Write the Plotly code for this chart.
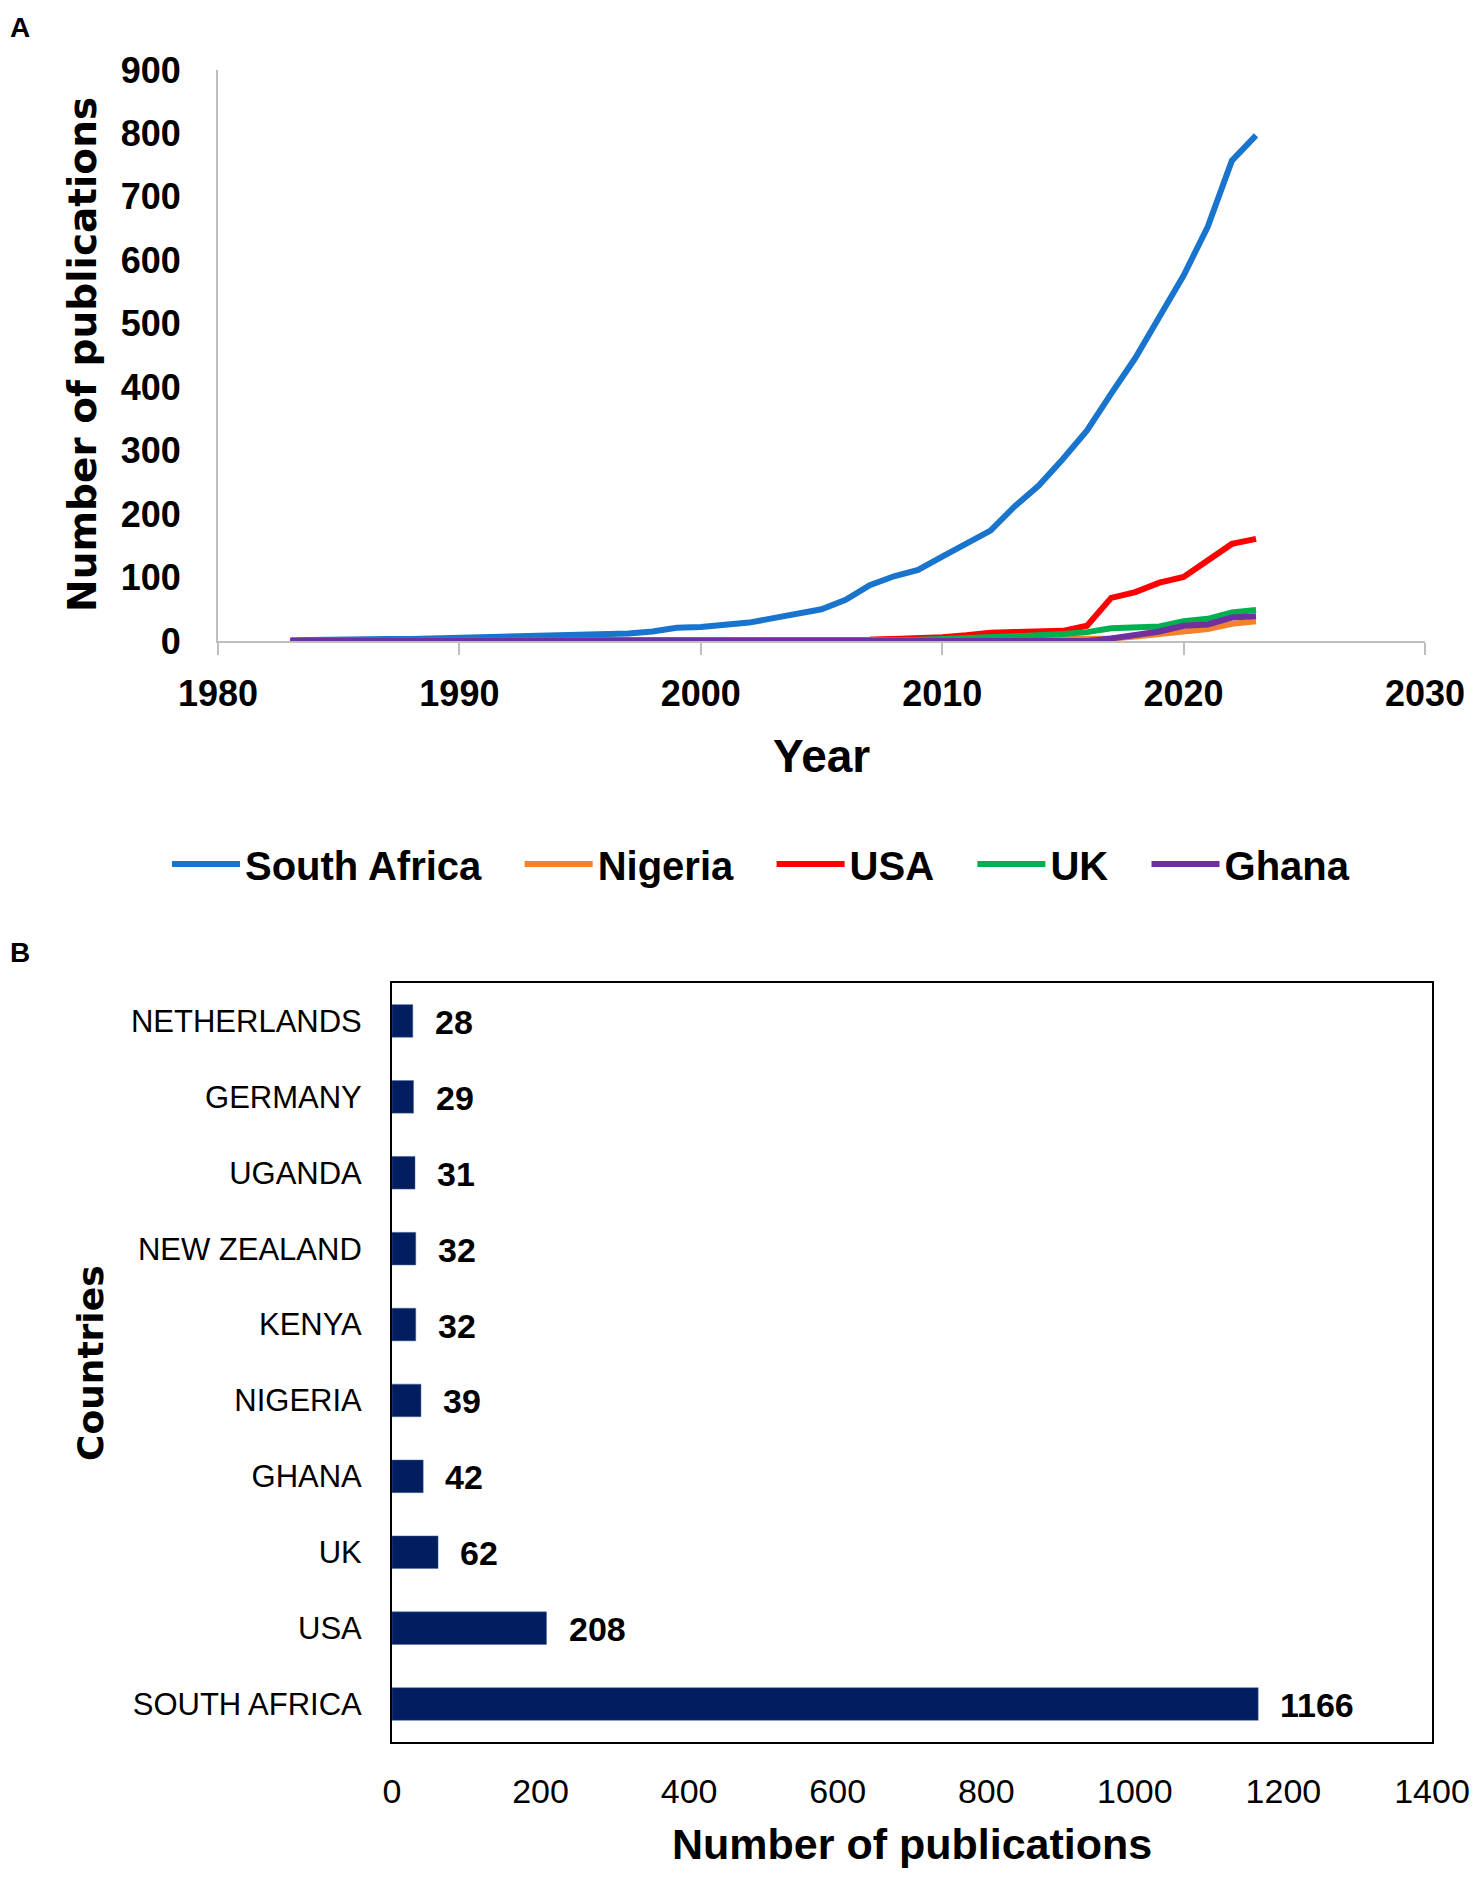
import plotly.graph_objects as go

# ---------------- data ----------------
years = list(range(1983, 2024))
south_africa = [1, 2, 2, 3, 3, 3, 4, 4, 5, 6, 7, 8, 10, 11, 12, 15, 21, 22, 25, 29,
                36, 43, 50, 65, 88, 102, 112, 133, 153, 174, 212, 245, 287, 332, 390,
                446, 511, 576, 653, 757, 797]
nigeria = [0] * 17 + [1, 1, 1, 1, 2, 2, 2, 2, 3, 3, 3, 3, 3, 3, 3, 3, 3, 4, 7, 11, 15, 19, 27, 31]
usa = [0] * 23 + [1, 2, 3, 4, 6, 9, 13, 14, 15, 16, 24, 68, 77, 92, 101, 128, 153, 161]
uk = [0] * 24 + [1, 1, 2, 3, 4, 5, 7, 9, 11, 14, 20, 21, 23, 31, 35, 45, 49]
ghana = [0] * 34 + [4, 9, 15, 24, 26, 37, 39]

series_names = ["South Africa", "Nigeria", "USA", "UK", "Ghana"]
series_values = [south_africa, nigeria, usa, uk, ghana]
series_colors = ["#1874CD", "#F5822A", "#FF0000", "#00B050", "#7030A0"]

countries = ["SOUTH AFRICA", "USA", "UK", "GHANA", "NIGERIA", "KENYA",
             "NEW ZEALAND", "UGANDA", "GERMANY", "NETHERLANDS"]
country_counts = [1166, 208, 62, 42, 39, 32, 32, 31, 29, 28]

x_ticks_a = [1980, 1990, 2000, 2010, 2020, 2030]
y_ticks_a = list(range(0, 1000, 100))
x_ticks_b = list(range(0, 1600, 200))

# ---------------- layout helpers ----------------
# the page body has an 8px margin: figure is placed at (8, 8) in the window
OFF = 8
W, H = 1479 - 2 * OFF, 1879 - 2 * OFF
def px_x(p):
    return (p - OFF) / W
def px_y(p):
    return (H - (p - OFF)) / H

BOLD = "Liberation Sans"
PAD = "\u00a0\u00a0\u00a0"
fig = go.Figure()

for i, (name, vals, col) in enumerate(zip(series_names, series_values, series_colors)):
    label = name + (PAD if i < len(series_names) - 1 else "")
    fig.add_trace(go.Scatter(
        x=years, y=vals, mode="lines", name=label,
        line=dict(color=col, width=6), cliponaxis=False,
        xaxis="x", yaxis="y"))

fig.add_trace(go.Bar(
    x=country_counts, y=countries, orientation="h",
    marker=dict(color="#021E5E", line=dict(color="#4a6aa8", width=0.5)),
    width=0.43, showlegend=False, xaxis="x2", yaxis="y2"))

annotations = []
for c, v in zip(countries, country_counts):
    annotations.append(dict(
        x=v, y=c, xref="x2", yref="y2", text=f"<b>{v}</b>", showarrow=False,
        xanchor="left", yanchor="middle", xshift=20, yshift=-1,
        font=dict(family=BOLD, size=34, color="black")))

annotations += [
    dict(x=0.0, y=px_y(27), xref="paper", yref="paper", text="<b>A</b>",
         showarrow=False, xanchor="left", yanchor="middle",
         font=dict(family=BOLD, size=28, color="black")),
    dict(x=0.0, y=px_y(952), xref="paper", yref="paper", text="<b>B</b>",
         showarrow=False, xanchor="left", yanchor="middle",
         font=dict(family=BOLD, size=28, color="black")),
    dict(x=px_x(82), y=px_y(355), xref="paper", yref="paper",
         text="<b>Number of publications</b>", textangle=-90, showarrow=False,
         xanchor="center", yanchor="middle",
         font=dict(family="DejaVu Sans", size=39, color="black")),
    dict(x=px_x(821), y=px_y(756), xref="paper", yref="paper",
         text="<b>Year</b>", showarrow=False, xanchor="center", yanchor="middle",
         font=dict(family=BOLD, size=46, color="black")),
    dict(x=px_x(90), y=px_y(1363), xref="paper", yref="paper",
         text="<b>Countries</b>", textangle=-90, showarrow=False,
         xanchor="center", yanchor="middle",
         font=dict(family="DejaVu Sans", size=36, color="black")),
    dict(x=px_x(912), y=px_y(1844), xref="paper", yref="paper",
         text="<b>Number of publications</b>", showarrow=False,
         xanchor="center", yanchor="middle",
         font=dict(family=BOLD, size=43, color="black")),
]

fig.update_layout(
    width=W, height=H,
    margin=dict(l=0, r=0, t=0, b=0, autoexpand=False),
    paper_bgcolor="white", plot_bgcolor="white",
    font=dict(family=BOLD, color="black"),
    xaxis=dict(domain=[px_x(218), px_x(1425)], range=[1980, 2030],
               tickvals=x_ticks_a, showgrid=False, zeroline=False,
               showline=True, linecolor="#BFBFBF", linewidth=2,
               ticks="outside", ticklen=12, tickwidth=2, tickcolor="#BFBFBF",
               ticklabelstandoff=8, ticklabeloverflow="allow",
               tickfont=dict(family=BOLD, size=36, color="black", weight="bold"),
               layer="below traces", anchor="y", automargin=False),
    yaxis=dict(domain=[px_y(641), px_y(70)], range=[0, 900],
               tickvals=y_ticks_a, showgrid=False, zeroline=False,
               showline=True, linecolor="#BFBFBF", linewidth=2, ticks="",
               ticklabelstandoff=28,
               tickfont=dict(family=BOLD, size=36, color="black", weight="bold"),
               layer="below traces", anchor="x", automargin=False),
    xaxis2=dict(domain=[px_x(392), px_x(1432)], range=[0, 1400],
                tickvals=x_ticks_b, showgrid=False, zeroline=False,
                showline=True, linecolor="black", linewidth=2, mirror=True,
                ticks="", ticklabelstandoff=18, ticklabeloverflow="allow",
                tickfont=dict(family=BOLD, size=34, color="black"),
                anchor="y2", automargin=False),
    yaxis2=dict(domain=[px_y(1742), px_y(983)], range=[-0.5, 9.5],
                type="category", categoryorder="array", categoryarray=countries,
                showgrid=False, zeroline=False,
                showline=True, linecolor="black", linewidth=2, mirror=True,
                ticks="", ticklabelstandoff=22,
                tickfont=dict(family=BOLD, size=31, color="black"),
                anchor="x2", automargin=False),
    legend=dict(orientation="h", x=px_x(761), xanchor="center",
                y=px_y(864), yanchor="middle",
                font=dict(family=BOLD, size=40, color="black", weight="bold"),
                itemwidth=68, bgcolor="rgba(0,0,0,0)", tracegroupgap=0),
    annotations=annotations,
    bargap=0.57,
)

fig.write_html("out.html")
